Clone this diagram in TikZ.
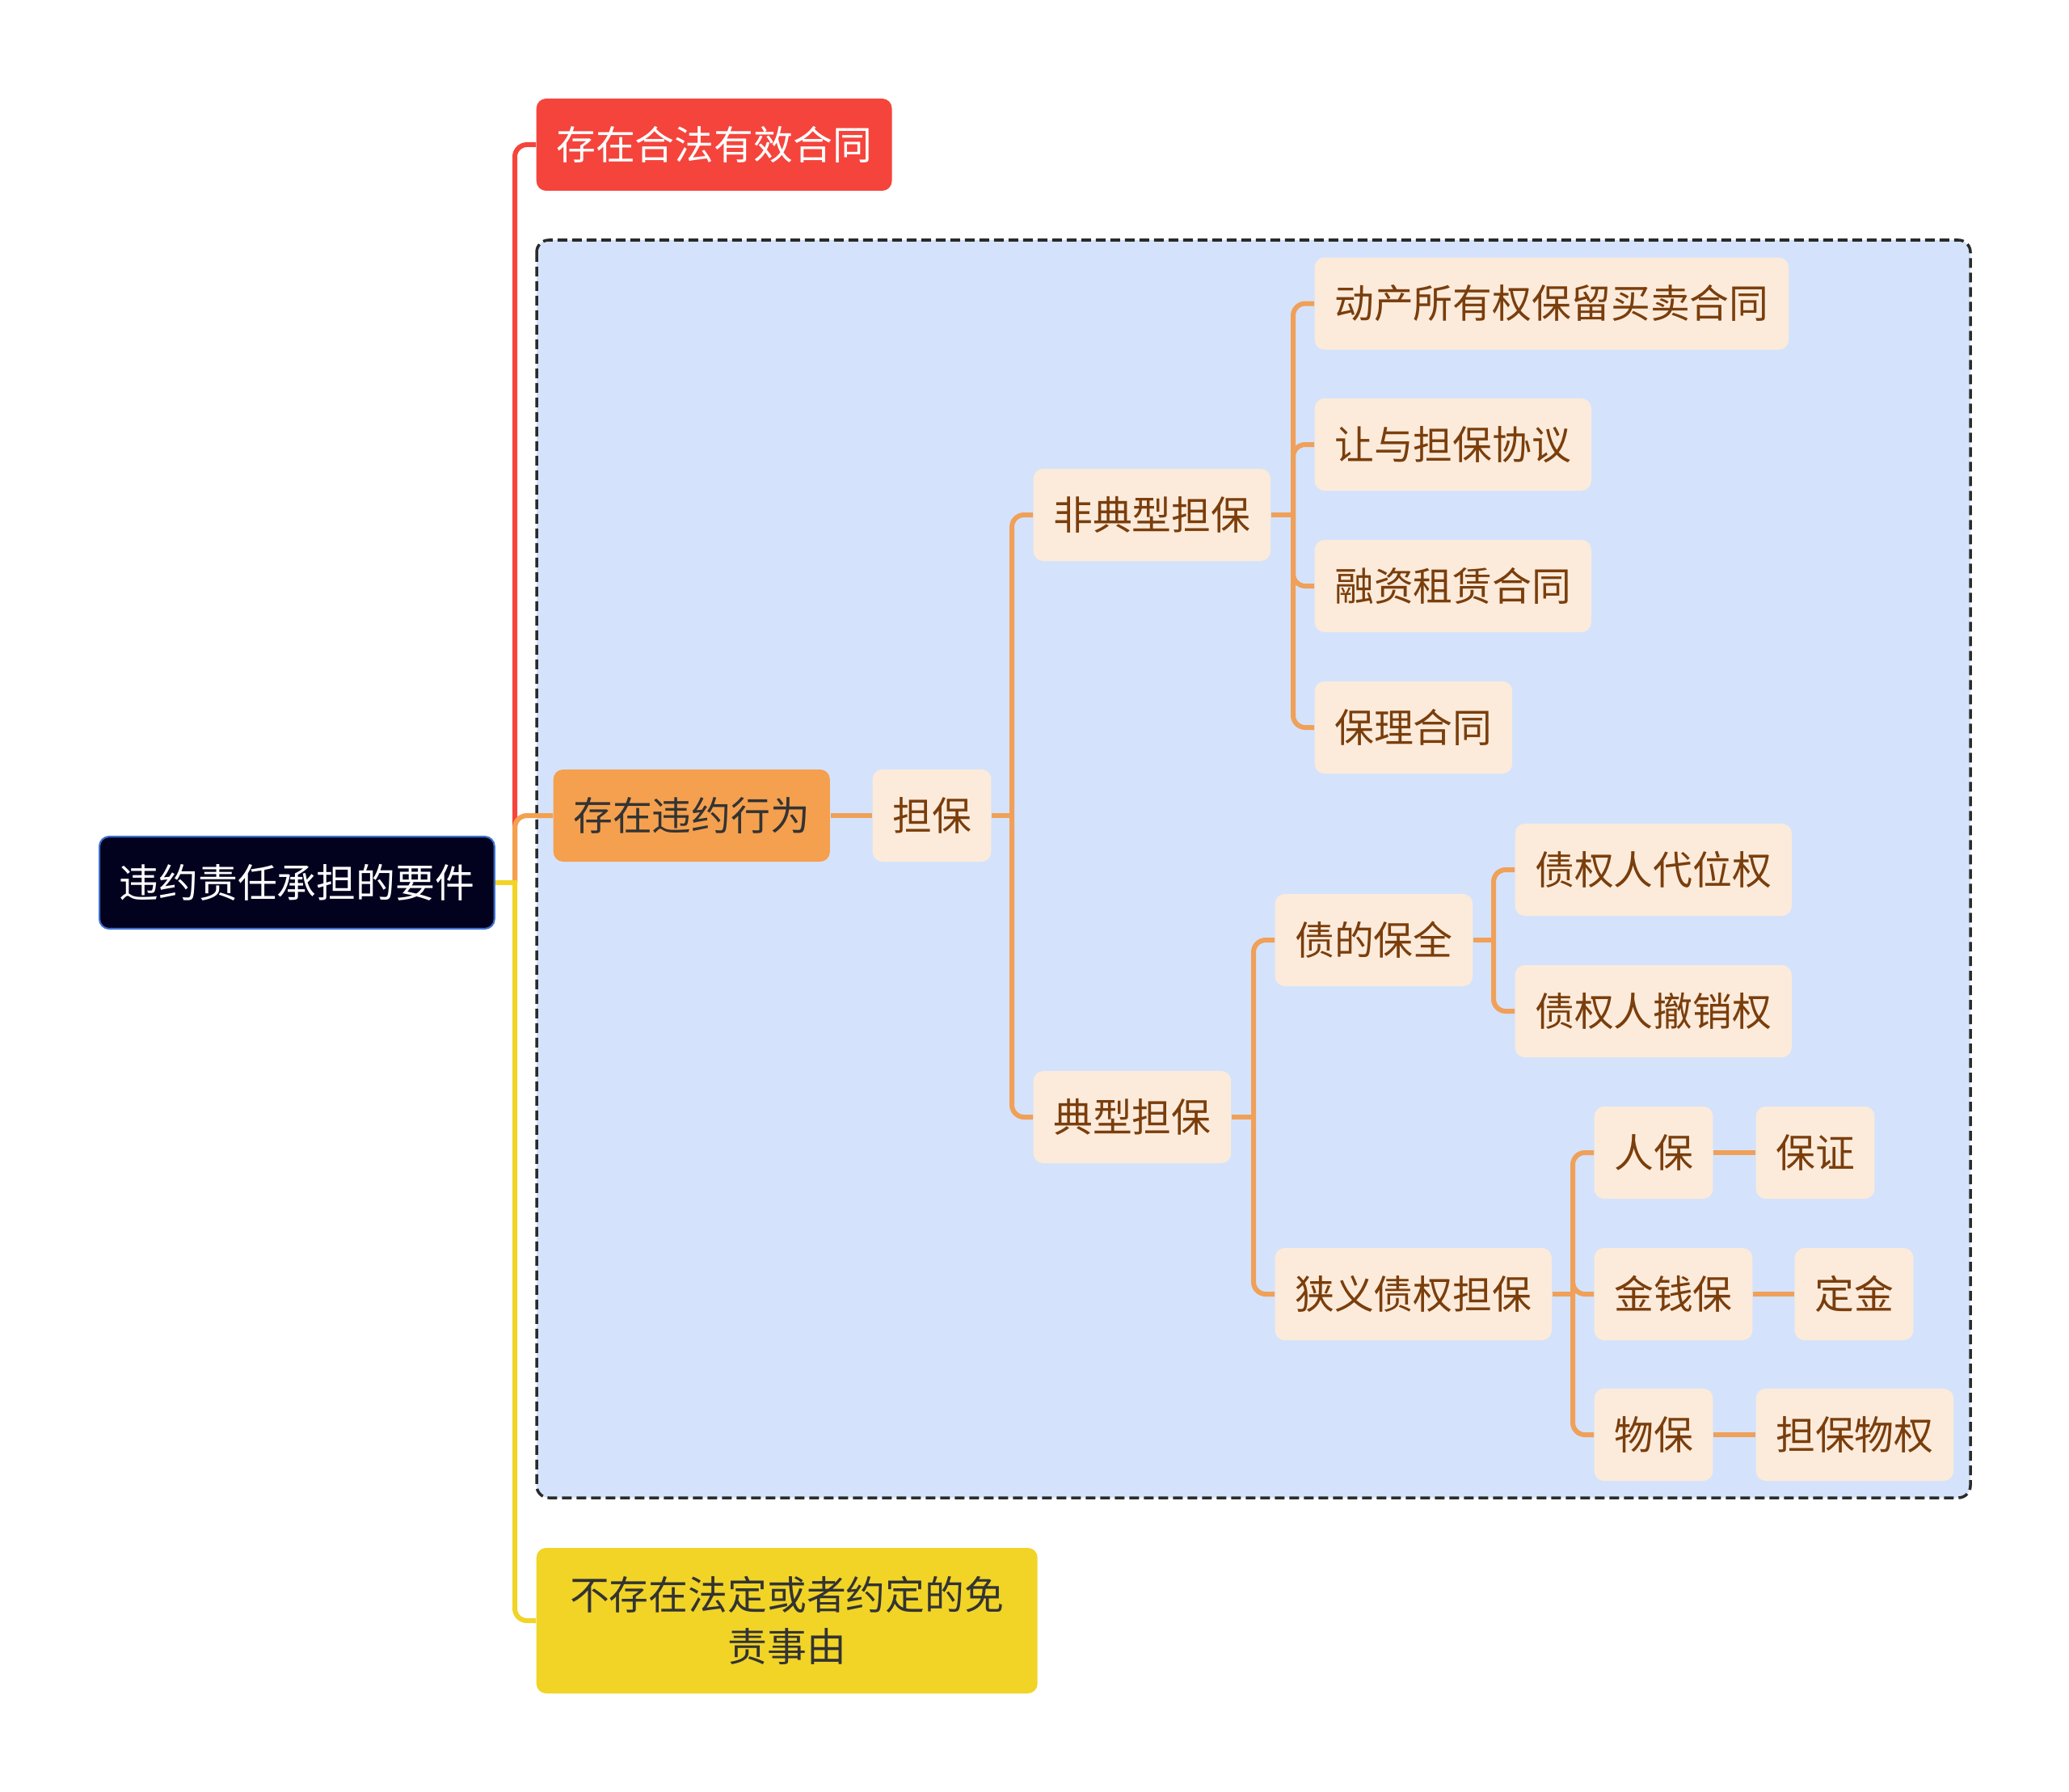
\documentclass[tikz,border=0pt]{standalone}
\usepackage{fontspec}
\setmainfont{Noto Sans CJK SC}
\definecolor{rootfill}{HTML}{02021F}
\definecolor{rootedge}{HTML}{3E6FCE}
\definecolor{redbr}{HTML}{F5443C}
\definecolor{orangebr}{HTML}{F5A04E}
\definecolor{yellowbr}{HTML}{F1D426}
\definecolor{leaffill}{HTML}{FCEBDB}
\definecolor{leaftext}{HTML}{7A3E0C}
\definecolor{areafill}{HTML}{D4E3FB}
\definecolor{linkcol}{HTML}{F0A058}
\definecolor{areaedge}{HTML}{2B2B2B}
\tikzset{
  mmbox/.style={rounded corners=0.12cm, minimum height=1.14cm, inner xsep=0.245cm,
    inner ysep=0pt, anchor=west, font=\fontsize{13.9pt}{18.2pt}\selectfont},
  rootbox/.style={mmbox, fill=rootfill, draw=rootedge, line width=0.6pt, text=white},
  leaf/.style={mmbox, fill=leaffill, text=leaftext},
  link/.style={line width=0.06cm, linkcol, rounded corners=0.15cm},
}
\begin{document}
\begin{tikzpicture}
  \useasboundingbox (0,0) rectangle (25.6,-22.17);
  % grouped area
  \draw[areaedge, fill=areafill, line width=0.035cm, dash pattern=on 0.12cm off 0.06cm,
    rounded corners=0.15cm] (6.64,-2.97) rectangle (24.38,-18.53);
  % main branches
  \node[rootbox] (root) at (1.22,-10.92) {违约责任承担的要件};
  \node[mmbox, fill=redbr, text=white] (lawful) at (6.63,-1.79) {存在合法有效合同};
  \node[mmbox, fill=orangebr, text=black!80] (breach) at (6.84,-10.09) {存在违约行为};
  \node[mmbox, fill=yellowbr, text=black!80, minimum height=1.8cm, inner xsep=0.4cm,
    text width=5.4cm, align=center] (exempt) at (6.63,-20.05) {不存在法定或者约定的免\\责事由};
  \coordinate (rt) at (6.37,-10.92);
  \draw[link, redbr] (rt) |- (lawful.west);
  \draw[link, orangebr] (rt) |- (breach.west);
  \draw[link, yellowbr] (rt) |- (exempt.west);
  \draw[link, yellowbr] (root.east) -- ([xshift=0.03cm]rt);
  % guarantee
  \node[leaf] (guar) at (10.79,-10.09) {担保};
  \node[leaf] (atyp) at (12.78,-6.37) {非典型担保};
  \node[leaf] (typ) at (12.78,-13.82) {典型担保};
  \draw[link] (breach.east) -- (guar.west);
  \coordinate (g) at (12.52,-10.09);
  \draw[link] (guar.east) -- (g);
  \draw[link] (g) |- (atyp.west);
  \draw[link] (g) |- (typ.west);
  % atypical
  \node[leaf] (a1) at (16.26,-3.755) {动产所有权保留买卖合同};
  \node[leaf] (a2) at (16.26,-5.50) {让与担保协议};
  \node[leaf] (a3) at (16.26,-7.25) {融资租赁合同};
  \node[leaf] (a4) at (16.26,-9.00) {保理合同};
  \coordinate (ga) at (16.00,-6.37);
  \draw[link] (atyp.east) -- (ga);
  \foreach \c in {a1,a2,a3,a4}
    \draw[link] (ga) |- (\c.west);
  % typical
  \node[leaf] (keep) at (15.77,-11.63) {债的保全};
  \node[leaf] (narrow) at (15.77,-16.01) {狭义债权担保};
  \coordinate (gt) at (15.51,-13.82);
  \draw[link] (typ.east) -- (gt);
  \draw[link] (gt) |- (keep.west);
  \draw[link] (gt) |- (narrow.west);
  \node[leaf] (k1) at (18.74,-10.76) {债权人代位权};
  \node[leaf] (k2) at (18.74,-12.51) {债权人撤销权};
  \coordinate (gk) at (18.48,-11.63);
  \draw[link] (keep.east) -- (gk);
  \draw[link] (gk) |- (k1.west);
  \draw[link] (gk) |- (k2.west);
  \node[leaf] (n1) at (19.72,-14.26) {人保};
  \node[leaf] (n2) at (19.72,-16.01) {金钱保};
  \node[leaf] (n3) at (19.72,-17.75) {物保};
  \coordinate (gn) at (19.46,-16.01);
  \draw[link] (narrow.east) -- (gn);
  \foreach \c in {n1,n2,n3}
    \draw[link] (gn) |- (\c.west);
  \node[leaf] (m1) at (21.72,-14.26) {保证};
  \node[leaf] (m2) at (22.20,-16.01) {定金};
  \node[leaf] (m3) at (21.72,-17.75) {担保物权};
  \draw[link] (n1.east) -- (m1.west);
  \draw[link] (n2.east) -- (m2.west);
  \draw[link] (n3.east) -- (m3.west);
\end{tikzpicture}
\end{document}
